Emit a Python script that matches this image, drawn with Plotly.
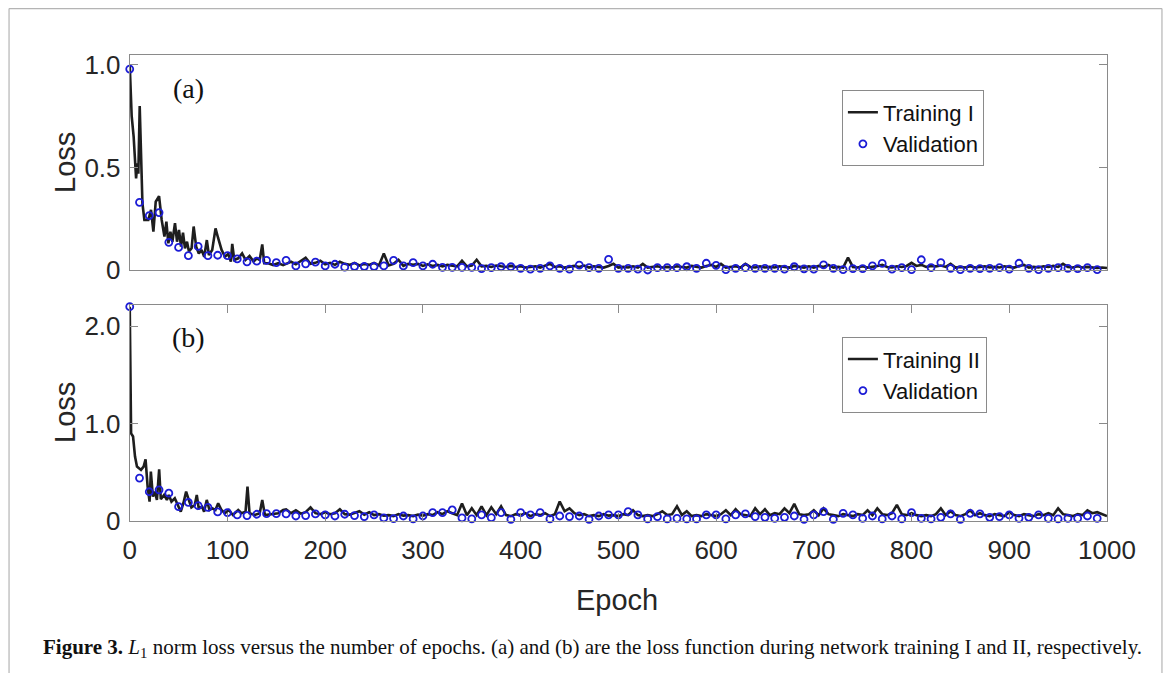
import plotly.graph_objects as go

# ---------------- data ----------------
# Panel (a): training I loss (early epochs read densely, then every 5 epochs)
train_a_early_epoch = [0, 2, 4, 6.5, 7.8, 8.8, 10.2, 11.5, 13, 15, 19, 21.8, 24.2, 26.6, 30,
                       32.7, 35.5, 37.5, 39.5, 41.6, 43.6, 46.3, 48.4, 50.4, 52.5, 54.5, 56.5,
                       58.6, 60.6, 63.3, 65.4, 68, 70.7, 73.5, 76.2, 78.9, 81, 84.4, 87.8, 90.5,
                       94, 97.4, 100.8, 103.5, 104.9, 107, 111, 115, 118.5, 122.6, 126.7, 130,
                       133, 135.6, 137.6, 141.7, 146.8, 152, 157]
train_a_early_loss = [1.0, 0.75, 0.65, 0.447, 0.52, 0.47, 0.80, 0.503, 0.325, 0.244, 0.244,
                      0.293, 0.187, 0.333, 0.36, 0.244, 0.163, 0.236, 0.13, 0.187, 0.138, 0.228,
                      0.138, 0.195, 0.114, 0.182, 0.106, 0.138, 0.09, 0.106, 0.212, 0.114, 0.081,
                      0.098, 0.065, 0.146, 0.073, 0.098, 0.203, 0.155, 0.098, 0.065, 0.078, 0.041,
                      0.127, 0.049, 0.057, 0.081, 0.049, 0.068, 0.041, 0.057, 0.049, 0.125, 0.033,
                      0.033, 0.024, 0.033, 0.024]
tail_epoch = list(range(160, 1001, 5))
train_a_tail_loss = [
    0.03, 0.04, 0.028, 0.045, 0.06, 0.03, 0.035, 0.045, 0.028, 0.035,
    0.025, 0.04, 0.03, 0.025, 0.035, 0.022, 0.03, 0.025, 0.035, 0.022,
    0.08, 0.022, 0.03, 0.05, 0.02, 0.03, 0.025, 0.03, 0.02, 0.028,
    0.02, 0.025, 0.018, 0.025, 0.02, 0.018, 0.045, 0.018, 0.022, 0.05,
    0.018, 0.02, 0.015, 0.022, 0.018, 0.015, 0.02, 0.015, 0.018, 0.012,
    0.015, 0.018, 0.012, 0.02, 0.03, 0.015, 0.018, 0.012, 0.015, 0.02,
    0.015, 0.022, 0.012, 0.018, 0.015, 0.012, 0.02, 0.03, 0.012, 0.015,
    0.012, 0.018, 0.012, 0.03, 0.012, 0.015, 0.018, 0.012, 0.015, 0.012,
    0.018, 0.015, 0.012, 0.02, 0.015, 0.012, 0.02, 0.025, 0.015, 0.03,
    0.012, 0.015, 0.018, 0.012, 0.03, 0.015, 0.012, 0.018, 0.012, 0.015,
    0.012, 0.018, 0.015, 0.012, 0.02, 0.015, 0.012, 0.018, 0.012, 0.02,
    0.015, 0.025, 0.012, 0.015, 0.012, 0.06, 0.015, 0.012, 0.018, 0.012,
    0.015, 0.02, 0.025, 0.015, 0.012, 0.018, 0.015, 0.02, 0.035, 0.02,
    0.025, 0.015, 0.02, 0.018, 0.022, 0.015, 0.03, 0.012, 0.015, 0.012,
    0.018, 0.012, 0.015, 0.018, 0.012, 0.015, 0.012, 0.018, 0.015, 0.012,
    0.02, 0.025, 0.012, 0.015, 0.012, 0.018, 0.015, 0.02, 0.015, 0.03,
    0.015, 0.012, 0.018, 0.012, 0.015, 0.012, 0.01, 0.012, 0.01]

# Panel (b): training II loss
train_b_early_epoch = [0, 1.4, 3.4, 5.4, 7.4, 11.5, 14.2, 16.2, 18.3, 20.3, 21.6, 23.7, 25.7,
                       27.8, 30.1, 31.8, 35.2, 38, 40, 42.7, 46.1, 48.8, 52.2, 54.9, 57.7, 60.4,
                       63.1, 66.5, 68.6, 70.6, 74, 76.1, 78.8, 81.6, 84.3, 87.7, 90.5, 93.9,
                       97.3, 101.4, 105.5, 111, 114.4, 118.5, 120.5, 122.6, 128, 133, 135.6,
                       138.3, 145, 152, 157]
train_b_early_loss = [2.2, 0.9, 0.867, 0.661, 0.558, 0.524, 0.558, 0.633, 0.353, 0.199, 0.507,
                      0.25, 0.301, 0.216, 0.531, 0.223, 0.267, 0.216, 0.267, 0.199, 0.233, 0.164,
                      0.096, 0.182, 0.301, 0.216, 0.14, 0.164, 0.267, 0.13, 0.147, 0.096, 0.216,
                      0.113, 0.13, 0.113, 0.182, 0.113, 0.079, 0.113, 0.062, 0.113, 0.079, 0.096,
                      0.353, 0.079, 0.062, 0.079, 0.216, 0.062, 0.07, 0.079, 0.113]
train_b_tail_loss = [
    0.12, 0.08, 0.11, 0.075, 0.09, 0.14, 0.08, 0.07, 0.09, 0.07,
    0.08, 0.12, 0.07, 0.065, 0.08, 0.1, 0.065, 0.09, 0.06, 0.07,
    0.055, 0.06, 0.05, 0.07, 0.055, 0.06, 0.05, 0.065, 0.055, 0.07,
    0.06, 0.09, 0.07, 0.1, 0.08, 0.06, 0.18, 0.06, 0.13, 0.06,
    0.15, 0.06, 0.14, 0.07, 0.15, 0.06, 0.05, 0.07, 0.06, 0.08,
    0.05, 0.07, 0.06, 0.08, 0.05, 0.07, 0.2, 0.1, 0.13, 0.08,
    0.06, 0.07, 0.05, 0.06, 0.05, 0.07, 0.055, 0.06, 0.05, 0.07,
    0.06, 0.11, 0.06, 0.05, 0.06, 0.05, 0.07, 0.1, 0.06, 0.07,
    0.15, 0.06, 0.1, 0.05, 0.06, 0.05, 0.07, 0.06, 0.05, 0.07,
    0.11, 0.06, 0.12, 0.07, 0.06, 0.05, 0.13, 0.07, 0.12, 0.06,
    0.08, 0.07, 0.13, 0.08, 0.175, 0.07, 0.06, 0.07, 0.11, 0.06,
    0.13, 0.07, 0.06, 0.05, 0.07, 0.06, 0.05, 0.07, 0.06, 0.11,
    0.06, 0.13, 0.07, 0.06, 0.08, 0.165, 0.07, 0.06, 0.08, 0.06,
    0.05, 0.06, 0.05, 0.07, 0.13, 0.06, 0.1, 0.06, 0.05, 0.07,
    0.11, 0.06, 0.08, 0.06, 0.05, 0.07, 0.06, 0.05, 0.09, 0.06,
    0.05, 0.07, 0.06, 0.05, 0.07, 0.06, 0.08, 0.06, 0.13, 0.07,
    0.06, 0.05, 0.07, 0.06, 0.11, 0.08, 0.09, 0.07, 0.05]

# Validation losses, every 10 epochs
val_epoch = list(range(0, 1000, 10))
val_a_loss = [
    0.98, 0.33, 0.265, 0.28, 0.135, 0.11, 0.07, 0.115, 0.07, 0.072,
    0.07, 0.054, 0.04, 0.043, 0.047, 0.036, 0.047, 0.02, 0.03, 0.038,
    0.02, 0.028, 0.014, 0.017, 0.017, 0.017, 0.02, 0.047, 0.02, 0.036,
    0.02, 0.028, 0.013, 0.013, 0.013, 0.013, 0.007, 0.012, 0.016, 0.016,
    0.008, 0.004, 0.008, 0.02, 0.008, 0.004, 0.024, 0.012, 0.008, 0.052,
    0.008, 0.008, 0.004, 0.0, 0.012, 0.012, 0.012, 0.016, 0.008, 0.033,
    0.023, 0.002, 0.008, 0.012, 0.008, 0.008, 0.008, 0.004, 0.016, 0.006,
    0.004, 0.025, 0.008, 0.002, 0.007, 0.007, 0.02, 0.032, 0.004, 0.012,
    0.002, 0.05, 0.012, 0.036, 0.008, 0.002, 0.008, 0.007, 0.008, 0.012,
    0.004, 0.033, 0.008, 0.002, 0.008, 0.012, 0.008, 0.007, 0.012, 0.002]
val_b_loss = [
    2.2, 0.44, 0.30, 0.32, 0.285, 0.147, 0.19, 0.157, 0.14, 0.093,
    0.086, 0.062, 0.055, 0.069, 0.075, 0.075, 0.072, 0.051, 0.055, 0.072,
    0.062, 0.051, 0.069, 0.055, 0.045, 0.062, 0.031, 0.025, 0.051, 0.021,
    0.051, 0.085, 0.085, 0.113, 0.031, 0.021, 0.062, 0.034, 0.085, 0.017,
    0.085, 0.062, 0.085, 0.021, 0.051, 0.045, 0.051, 0.017, 0.051, 0.062,
    0.062, 0.096, 0.062, 0.021, 0.045, 0.021, 0.027, 0.021, 0.021, 0.062,
    0.062, 0.021, 0.062, 0.072, 0.045, 0.038, 0.027, 0.038, 0.051, 0.017,
    0.062, 0.096, 0.017, 0.079, 0.062, 0.027, 0.051, 0.021, 0.051, 0.021,
    0.085, 0.027, 0.021, 0.038, 0.072, 0.017, 0.079, 0.072, 0.038, 0.045,
    0.062, 0.027, 0.038, 0.062, 0.027, 0.021, 0.027, 0.027, 0.051, 0.027]

x_ticks = list(range(0, 1001, 100))
ya_ticks = [0, 0.5, 1.0]
ya_labels = ["0", "0.5", "1.0"]
yb_ticks = [0, 1.0, 2.0]
yb_labels = ["0", "1.0", "2.0"]

# ---------------- styling ----------------
W, H = 1155, 665
SANS = "Liberation Sans, Arial, sans-serif"
SERIF = "Liberation Serif, Times New Roman, serif"
AXC = "#8a8a8a"
TXT = "#262626"
LINE_C = "#1e1e1e"
BLUE = "#1c1cd6"

fig = go.Figure()

fig.add_trace(go.Scatter(x=train_a_early_epoch + tail_epoch, y=train_a_early_loss + train_a_tail_loss,
                         mode="lines", line=dict(color=LINE_C, width=2.6), name="Training I",
                         xaxis="x", yaxis="y", legend="legend", cliponaxis=False))
fig.add_trace(go.Scatter(x=val_epoch, y=val_a_loss, mode="markers", name="Validation",
                         marker=dict(symbol="circle-open", size=7, color=BLUE, line=dict(width=1.8, color=BLUE)),
                         xaxis="x", yaxis="y", legend="legend", cliponaxis=False))
fig.add_trace(go.Scatter(x=train_b_early_epoch + tail_epoch, y=train_b_early_loss + train_b_tail_loss,
                         mode="lines", line=dict(color=LINE_C, width=2.6), name="Training II",
                         xaxis="x2", yaxis="y2", legend="legend2", cliponaxis=False))
fig.add_trace(go.Scatter(x=val_epoch, y=val_b_loss, mode="markers", name="Validation",
                         marker=dict(symbol="circle-open", size=7, color=BLUE, line=dict(width=1.8, color=BLUE)),
                         xaxis="x2", yaxis="y2", legend="legend2", cliponaxis=False))

xdom = [0.1054, 0.9515]
common_axis = dict(showline=True, linecolor=AXC, linewidth=1, showgrid=False, zeroline=False,
                   tickcolor=AXC, tickwidth=1, ticklen=8, automargin=False,
                   tickfont=dict(family=SANS, size=26, color=TXT))

legend_style = dict(bgcolor="white", bordercolor=AXC, borderwidth=1,
                    font=dict(family=SANS, size=22, color="#111111"),
                    xanchor="left", yanchor="top", tracegroupgap=0, itemwidth=30)

fig.update_layout(
    width=W, height=H, autosize=False,
    margin=dict(l=0, r=0, t=0, b=0, pad=0),
    paper_bgcolor="white", plot_bgcolor="white",
    xaxis=dict(domain=xdom, anchor="y", range=[0, 1000], mirror=True, ticks="",
               showticklabels=False, **common_axis),
    yaxis=dict(domain=[0.606, 0.9298], anchor="x", range=[0, 1.05], tickvals=ya_ticks,
               ticktext=ya_labels, ticks="inside", mirror="ticks", ticklabelstandoff=3, **common_axis),
    xaxis2=dict(domain=xdom, anchor="y2", range=[0, 1000], tickvals=x_ticks, ticks="inside",
                mirror="ticks", ticklabelstandoff=6, **common_axis),
    yaxis2=dict(domain=[0.2286, 0.5538], anchor="x2", range=[0, 2.22], tickvals=yb_ticks,
                ticktext=yb_labels, ticks="inside", mirror="ticks", ticklabelstandoff=3, **common_axis),
    legend=dict(x=0.722, y=0.876, **legend_style),
    legend2=dict(x=0.722, y=0.505, **legend_style),
    showlegend=True,
)

# outer frame of the figure (left, top, right)
for (x0, y0, x1, y1) in [(0.0009, -0.05, 0.0009, 0.9992), (0.0009, 0.9992, 0.9991, 0.9992),
                         (0.9991, 0.9992, 0.9991, -0.05)]:
    fig.add_shape(type="line", xref="paper", yref="paper", x0=x0, y0=y0, x1=x1, y1=y1,
                  line=dict(color="#b4b4b4", width=1.2))

annots = [
    dict(text="(a)", x=180 / W, y=1 - 80 / H, font=dict(family=SERIF, size=28, color="#111111")),
    dict(text="(b)", x=180 / W, y=1 - 329 / H, font=dict(family=SERIF, size=28, color="#111111")),
    dict(text="Loss", x=57 / W, y=1 - 155 / H, textangle=-90, font=dict(family=SANS, size=29, color=TXT)),
    dict(text="Loss", x=57 / W, y=1 - 405 / H, textangle=-90, font=dict(family=SANS, size=29, color=TXT)),
    dict(text="Epoch", x=609 / W, y=1 - 592 / H, font=dict(family=SANS, size=29, color=TXT)),
]
for a in annots:
    fig.add_annotation(xref="paper", yref="paper", xanchor="center", yanchor="middle",
                       showarrow=False, **a)

fig.add_annotation(
    xref="paper", yref="paper", x=33 / W, y=1 - 640 / H, xanchor="left", yanchor="middle",
    showarrow=False,
    text="<b>Figure 3.</b> <i>L</i><sub>1</sub> norm loss versus the number of epochs. (a) and (b) are the "
         "loss function during network training I and II, respectively.",
    font=dict(family=SERIF, size=21, color="#111111"))

fig.write_html("out.html")
